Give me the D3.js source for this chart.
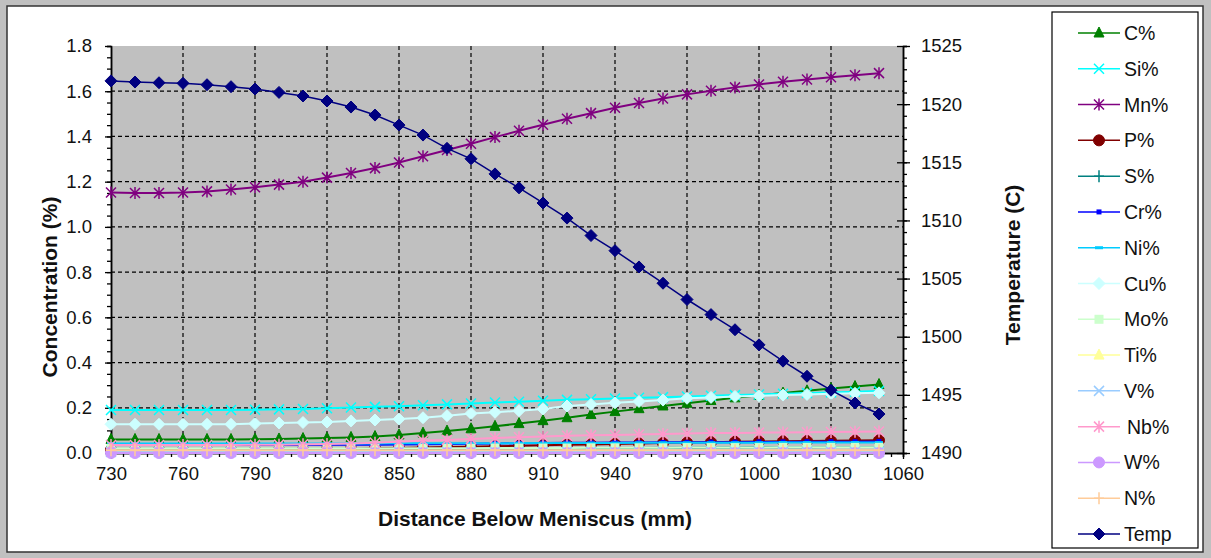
<!DOCTYPE html>
<html><head><meta charset="utf-8">
<script src="https://cdn.jsdelivr.net/npm/d3@7/dist/d3.min.js"></script>
<style>
html,body{margin:0;padding:0;background:#c0c0c0;}
svg{display:block;font-family:"Liberation Sans",Arial,sans-serif;}
</style></head>
<body>
<svg id="chart" width="1211" height="558"></svg>
<script>
// ---------------- DATA ----------------
const distance = [730,740,750,760,770,780,790,800,810,820,830,840,850,860,870,880,890,900,910,920,930,940,950,960,970,980,990,1000,1010,1020,1030,1040,1050];
const xTicks = [730,760,790,820,850,880,910,940,970,1000,1030,1060];
const yLeftTicks = [0,0.2,0.4,0.6,0.8,1.0,1.2,1.4,1.6,1.8];
const yRightTicks = [1490,1495,1500,1505,1510,1515,1520,1525];

const C  = [0.060,0.060,0.060,0.060,0.060,0.060,0.061,0.062,0.064,0.066,0.069,0.073,0.080,0.088,0.097,0.107,0.118,0.130,0.143,0.156,0.170,0.183,0.196,0.208,0.220,0.232,0.244,0.255,0.265,0.275,0.285,0.294,0.303];
const Si = [0.190,0.190,0.190,0.190,0.190,0.190,0.191,0.193,0.195,0.198,0.201,0.204,0.207,0.211,0.215,0.219,0.223,0.227,0.231,0.235,0.238,0.241,0.244,0.247,0.250,0.253,0.256,0.259,0.262,0.265,0.268,0.271,0.274];
const Mn = [1.152,1.150,1.150,1.152,1.157,1.165,1.175,1.187,1.200,1.218,1.238,1.260,1.285,1.312,1.340,1.368,1.397,1.425,1.452,1.478,1.503,1.527,1.548,1.568,1.586,1.602,1.617,1.630,1.642,1.652,1.662,1.671,1.680];
const P  = [0.015,0.015,0.015,0.015,0.015,0.015,0.015,0.015,0.016,0.017,0.018,0.020,0.022,0.024,0.026,0.028,0.030,0.032,0.034,0.036,0.038,0.040,0.042,0.044,0.046,0.048,0.050,0.051,0.052,0.053,0.054,0.055,0.056];
const S  = [0.015,0.015,0.015,0.015,0.015,0.015,0.015,0.015,0.015,0.016,0.016,0.017,0.017,0.018,0.018,0.019,0.019,0.020,0.020,0.021,0.021,0.022,0.022,0.023,0.023,0.024,0.024,0.025,0.025,0.025,0.026,0.026,0.026];
const Cr = [0.035,0.035,0.035,0.035,0.035,0.035,0.035,0.035,0.036,0.036,0.037,0.037,0.038,0.039,0.040,0.041,0.042,0.043,0.044,0.045,0.045,0.046,0.046,0.047,0.047,0.048,0.048,0.049,0.049,0.050,0.050,0.050,0.051];
const Ni = [0.042,0.042,0.042,0.042,0.042,0.042,0.042,0.042,0.042,0.042,0.042,0.042,0.043,0.043,0.043,0.043,0.043,0.044,0.044,0.044,0.044,0.044,0.045,0.045,0.045,0.045,0.045,0.045,0.046,0.046,0.046,0.046,0.046];
const Cu = [0.127,0.127,0.127,0.127,0.127,0.127,0.130,0.133,0.135,0.137,0.142,0.146,0.150,0.156,0.165,0.175,0.180,0.187,0.195,0.208,0.215,0.222,0.228,0.234,0.242,0.246,0.250,0.253,0.256,0.259,0.262,0.264,0.266];
const Mo = [0.020,0.020,0.020,0.020,0.020,0.020,0.020,0.020,0.020,0.020,0.020,0.020,0.021,0.021,0.021,0.021,0.022,0.022,0.022,0.022,0.023,0.023,0.023,0.023,0.024,0.024,0.024,0.024,0.025,0.025,0.025,0.025,0.025];
const Ti = [0.008,0.008,0.008,0.008,0.008,0.008,0.008,0.008,0.008,0.008,0.008,0.008,0.008,0.008,0.008,0.008,0.008,0.008,0.008,0.008,0.008,0.008,0.008,0.008,0.008,0.008,0.008,0.008,0.008,0.008,0.008,0.008,0.008];
const V  = [0.005,0.005,0.005,0.005,0.005,0.005,0.005,0.005,0.005,0.005,0.005,0.005,0.005,0.005,0.005,0.005,0.005,0.005,0.005,0.005,0.005,0.005,0.005,0.005,0.005,0.005,0.005,0.005,0.005,0.005,0.005,0.005,0.005];
const Nb = [0.035,0.035,0.035,0.035,0.035,0.035,0.036,0.037,0.039,0.040,0.042,0.045,0.050,0.055,0.058,0.062,0.066,0.070,0.073,0.076,0.078,0.080,0.082,0.084,0.086,0.088,0.089,0.090,0.091,0.092,0.093,0.094,0.095];
const W  = [0.000,0.000,0.000,0.000,0.000,0.000,0.000,0.000,0.000,0.000,0.000,0.000,0.000,0.000,0.000,0.000,0.000,0.000,0.000,0.000,0.000,0.000,0.000,0.000,0.000,0.000,0.000,0.000,0.000,0.000,0.000,0.000,0.000];
const N  = [0.012,0.012,0.012,0.012,0.012,0.012,0.012,0.012,0.012,0.012,0.012,0.012,0.012,0.012,0.012,0.012,0.012,0.012,0.012,0.012,0.012,0.012,0.012,0.012,0.012,0.012,0.012,0.012,0.012,0.012,0.012,0.012,0.012];
const Temp = [1522.0,1521.9,1521.84,1521.79,1521.67,1521.5,1521.3,1521.01,1520.7,1520.27,1519.75,1519.06,1518.2,1517.34,1516.2,1515.3,1514.0,1512.8,1511.5,1510.2,1508.7,1507.4,1506.0,1504.6,1503.2,1501.9,1500.6,1499.3,1497.9,1496.6,1495.4,1494.3,1493.35];

const seriesNames = ["C%","Si%","Mn%","P%","S%","Cr%","Ni%","Cu%","Mo%","Ti%","V%","Nb%","W%","N%","Temp"];
const seriesData  = [C,Si,Mn,P,S,Cr,Ni,Cu,Mo,Ti,V,Nb,W,N,Temp];
const seriesColors = ["#008000","#00FFFF","#800080","#800000","#008080","#0000FF","#00CCFF","#CCFFFF","#CCFFCC","#FFFF99","#99CCFF","#FF99CC","#CC99FF","#FFCC99","#000080"];
const seriesMarkers = ["triangle","x","star","circle","plus","smallsquare","dash","diamond","square","triangle","x","star","circle","plus","diamond"];

// ---------------- LAYOUT ----------------
const svg = d3.select("#chart");
const plot = {left:111, right:903, top:46, bottom:453};

svg.append("rect").attr("x",7).attr("y",6).attr("width",1196).attr("height",546)
  .attr("fill","#fff").attr("stroke","#333").attr("stroke-width",1.5);

const x = d3.scaleLinear().domain([730,1060]).range([plot.left,plot.right]);
const yL = d3.scaleLinear().domain([0,1.8]).range([plot.bottom,plot.top]);
const yR = d3.scaleLinear().domain([1490,1525]).range([plot.bottom,plot.top]);

svg.append("rect").attr("x",plot.left).attr("y",plot.top)
  .attr("width",plot.right-plot.left).attr("height",plot.bottom-plot.top)
  .attr("fill","#C0C0C0");

// gridlines
const grid = svg.append("g").attr("stroke","#000").attr("stroke-width",1.2).attr("stroke-dasharray","4,3");
grid.selectAll("line.v").data(xTicks.slice(1,-1)).join("line")
  .attr("x1",d=>x(d)).attr("x2",d=>x(d)).attr("y1",plot.top).attr("y2",plot.bottom);
grid.selectAll("line.h").data(yLeftTicks.slice(1,-1)).join("line")
  .attr("y1",d=>yL(d)).attr("y2",d=>yL(d)).attr("x1",plot.left).attr("x2",plot.right);

// axes
const fs = 18.5;
function styleAxis(g){
  g.selectAll("path").attr("stroke","#000").attr("stroke-width",1.5);
  g.selectAll("line").attr("stroke","#000").attr("stroke-width",1.3);
  g.selectAll("text").attr("font-size",fs).attr("fill","#111").attr("font-family","Liberation Sans, Arial, sans-serif");
}
// minor ticks
const gxMinor = svg.append("g").attr("transform",`translate(0,${plot.bottom})`)
  .call(d3.axisBottom(x).tickValues(d3.range(730,1061,5)).tickSize(4).tickFormat(""));
styleAxis(gxMinor);
const gx = svg.append("g").attr("transform",`translate(0,${plot.bottom})`)
  .call(d3.axisBottom(x).tickValues(xTicks).tickSize(6).tickSizeOuter(0).tickPadding(8).tickFormat(d3.format("d")));
styleAxis(gx);

const gyMinor = svg.append("g").attr("transform",`translate(${plot.left},0)`)
  .call(d3.axisLeft(yL).tickValues(d3.range(0,1.8001,0.05)).tickSize(4).tickFormat(""));
styleAxis(gyMinor);
const gy = svg.append("g").attr("transform",`translate(${plot.left},0)`)
  .call(d3.axisLeft(yL).tickValues(yLeftTicks).tickSize(6).tickSizeOuter(0).tickPadding(13).tickFormat(d3.format(".1f")));
styleAxis(gy);

const gyrMinor = svg.append("g").attr("transform",`translate(${plot.right},0)`)
  .call(d3.axisRight(yR).tickValues(d3.range(1490,1525.1,1)).tickSize(4).tickFormat(""));
styleAxis(gyrMinor);
const gyr = svg.append("g").attr("transform",`translate(${plot.right},0)`)
  .call(d3.axisRight(yR).tickValues(yRightTicks).tickSize(7).tickSizeOuter(0).tickPadding(11).tickFormat(d3.format("d")));
gyr.selectAll(".tick line").attr("x1",-6);
styleAxis(gyr);

// axis titles
svg.append("text").attr("x",535).attr("y",526).attr("text-anchor","middle")
  .attr("font-size",21).attr("font-weight","bold").attr("fill","#111").text("Distance Below Meniscus (mm)");
svg.append("text").attr("transform","translate(57,287) rotate(-90)").attr("text-anchor","middle")
  .attr("font-size",21).attr("font-weight","bold").attr("fill","#111").text("Concentration  (%)");
svg.append("text").attr("transform","translate(1020,265) rotate(-90)").attr("text-anchor","middle")
  .attr("font-size",21).attr("font-weight","bold").attr("fill","#111").text("Temperature (C)");

// marker drawing
function drawMarker(g, type, color, cx, cy){
  const s = 5;
  switch(type){
    case "triangle":
      g.append("path").attr("d",`M${cx},${cy-s-1}L${cx+s},${cy+s-1}L${cx-s},${cy+s-1}Z`).attr("fill",color).attr("stroke",color); break;
    case "x":
      g.append("path").attr("d",`M${cx-s},${cy-s}L${cx+s},${cy+s}M${cx-s},${cy+s}L${cx+s},${cy-s}`).attr("stroke",color).attr("stroke-width",1.5).attr("fill","none"); break;
    case "star":
      g.append("path").attr("d",`M${cx-s},${cy-s}L${cx+s},${cy+s}M${cx-s},${cy+s}L${cx+s},${cy-s}M${cx},${cy-s-1}L${cx},${cy+s+1}`).attr("stroke",color).attr("stroke-width",1.5).attr("fill","none"); break;
    case "circle":
      g.append("circle").attr("cx",cx).attr("cy",cy).attr("r",s+0.5).attr("fill",color).attr("stroke",color); break;
    case "plus":
      g.append("path").attr("d",`M${cx-s},${cy}L${cx+s},${cy}M${cx},${cy-s-1}L${cx},${cy+s+1}`).attr("stroke",color).attr("stroke-width",1.5).attr("fill","none"); break;
    case "smallsquare":
      g.append("rect").attr("x",cx-2.5).attr("y",cy-2.5).attr("width",5).attr("height",5).attr("fill",color); break;
    case "dash":
      g.append("rect").attr("x",cx-4).attr("y",cy-1.5).attr("width",8).attr("height",3).attr("fill",color); break;
    case "diamond":
      g.append("path").attr("d",`M${cx},${cy-s-1}L${cx+s+1},${cy}L${cx},${cy+s+1}L${cx-s-1},${cy}Z`).attr("fill",color).attr("stroke",color); break;
    case "square":
      g.append("rect").attr("x",cx-4.5).attr("y",cy-4.5).attr("width",9).attr("height",9).attr("fill",color); break;
  }
}

// series
seriesNames.forEach((name,i)=>{
  const yS = name==="Temp" ? yR : yL;
  const vals = seriesData[i];
  const g = svg.append("g");
  const line = d3.line().x((d,j)=>x(distance[j])).y(d=>yS(d));
  g.append("path").datum(vals).attr("d",line).attr("fill","none")
    .attr("stroke",seriesColors[i]).attr("stroke-width",name==="Temp"?1.5:2);
  vals.forEach((v,j)=>drawMarker(g, seriesMarkers[i], seriesColors[i], x(distance[j]), yS(v)));
});

// legend
const lg = svg.append("g");
lg.append("rect").attr("x",1052).attr("y",12).attr("width",146).attr("height",536)
  .attr("fill","#fff").attr("stroke","#000").attr("stroke-width",1.2);
const legendY = d3.scalePoint().domain(seriesNames).range([33,534]);
seriesNames.forEach((name,i)=>{
  const yy = legendY(name);
  lg.append("line").attr("x1",1078).attr("x2",1120).attr("y1",yy).attr("y2",yy)
    .attr("stroke",seriesColors[i]).attr("stroke-width",1.5);
  drawMarker(lg, seriesMarkers[i], seriesColors[i], 1099, yy);
  lg.append("text").attr("x",name==="Nb%"?1127:1124).attr("y",yy+7).attr("font-size",19.5)
    .attr("fill","#111").text(name);
});
</script>
</body></html>
